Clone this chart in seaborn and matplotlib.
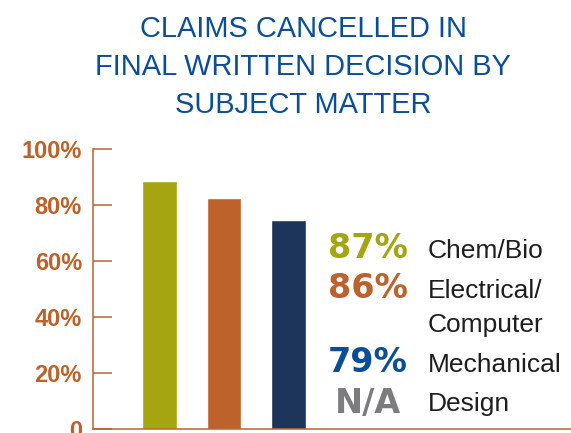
import numpy as np
import matplotlib
matplotlib.use("Agg")
import matplotlib.pyplot as plt
import seaborn as sns

# data
categories = ["Chem/Bio", "Electrical/\nComputer", "Mechanical"]
bar_heights = [88.5, 82.5, 74.5]
bar_colors = ["#A5A512", "#BC622A", "#1D3558"]

label_values = ["87%", "86%", "79%", "N/A"]
label_names = ["Chem/Bio", "Electrical/\nComputer", "Mechanical", "Design"]
label_colors = ["#A5A512", "#BC622A", "#0B4E98", "#7C7C7E"]

y_ticks = [0, 20, 40, 60, 80, 100]
y_ticklabels = ["0", "20%", "40%", "60%", "80%", "100%"]

title_lines = ["CLAIMS CANCELLED IN", "FINAL WRITTEN DECISION BY", "SUBJECT MATTER"]

orange = "#BC622A"
title_blue = "#0B4E98"

sns.set_theme(style="white")
plt.rcParams["font.family"] = ["Liberation Sans", "DejaVu Sans"]

W, H = 571, 433
fig = plt.figure(figsize=(W / 100, H / 100), dpi=100)


def fy(px):
    return 1 - px / H


ax = fig.add_axes([93 / W, fy(428.5), (W - 93) / W, (428.5 - 149) / H])
sns.barplot(x=categories, y=bar_heights, hue=categories, palette=bar_colors,
            width=0.54, legend=False, saturation=1, ax=ax)

ax.set_ylim(0, 100)
ax.set_xlim(-1.03, 6.38)
ax.set_yticks(y_ticks)
ax.set_yticklabels(y_ticklabels, fontsize=17, fontweight="bold", color=orange)
ax.set_xticks([])
ax.set_xlabel("")
ax.set_ylabel("")
ax.tick_params(axis="y", direction="in", length=13.7, width=1.1, color=orange,
               pad=8, left=True)
for side in ["top", "right"]:
    ax.spines[side].set_visible(False)
for side in ["left", "bottom"]:
    ax.spines[side].set_color(orange)
    ax.spines[side].set_linewidth(1.1)
ax.patch.set_alpha(0)

# title, one line at a time
for line, base in zip(title_lines, [37, 75, 112.7]):
    fig.text(303 / W, fy(base), line, ha="center", va="baseline",
             fontsize=20.9, color=title_blue)

# text legend on the right
value_bases = [258.5, 298.3, 371.7, 412.5]
name_bases = [258.5, 298.3, 371.7, 410.5]
for val, name, col, vb, nb in zip(label_values, label_names, label_colors,
                                  value_bases, name_bases):
    fig.text(368 / W, fy(vb), val, ha="center", va="baseline",
             fontsize=24, fontweight="bold", color=col,
             family=["DejaVu Sans"])
    lines = name.split("\n")
    for i, ln in enumerate(lines):
        fig.text(427.5 / W, fy(nb + i * 33.4), ln, ha="left", va="baseline",
                 fontsize=19, color="#1E1E1E")

fig.savefig("out.png", dpi=100)
